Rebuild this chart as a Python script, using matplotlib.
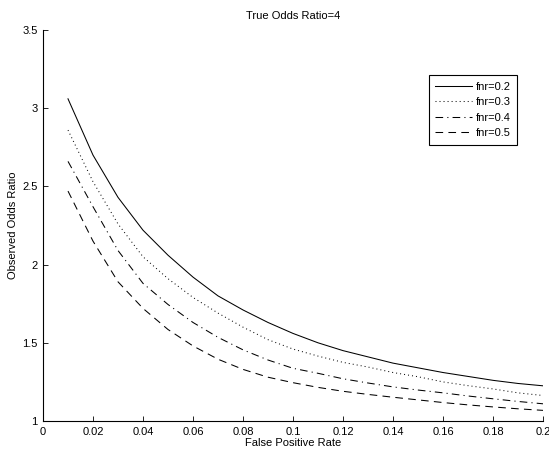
import matplotlib
matplotlib.use("Agg")
import matplotlib.pyplot as plt

# false positive rate (x) and observed odds ratio per fnr
fpr = [0.01, 0.02, 0.03, 0.04, 0.05, 0.06, 0.07, 0.08, 0.09, 0.10,
       0.11, 0.12, 0.13, 0.14, 0.15, 0.16, 0.17, 0.18, 0.19, 0.20]

or_fnr02 = [3.06, 2.70, 2.43, 2.22, 2.06, 1.92, 1.80, 1.71, 1.63, 1.56,
            1.50, 1.45, 1.41, 1.37, 1.34, 1.31, 1.285, 1.26, 1.24, 1.225]
or_fnr03 = [2.86, 2.53, 2.26, 2.05, 1.91, 1.79, 1.69, 1.60, 1.52, 1.46,
            1.415, 1.375, 1.345, 1.31, 1.283, 1.25, 1.226, 1.205, 1.18, 1.163]
or_fnr04 = [2.66, 2.37, 2.09, 1.88, 1.745, 1.63, 1.535, 1.455, 1.39, 1.337,
            1.305, 1.27, 1.243, 1.218, 1.198, 1.18, 1.16, 1.142, 1.125, 1.11]
or_fnr05 = [2.47, 2.15, 1.89, 1.72, 1.585, 1.48, 1.395, 1.33, 1.28, 1.245,
            1.215, 1.19, 1.17, 1.152, 1.135, 1.118, 1.103, 1.09, 1.078, 1.068]

labels = ["fnr=0.2", "fnr=0.3", "fnr=0.4", "fnr=0.5"]
xticks = [0, 0.02, 0.04, 0.06, 0.08, 0.1, 0.12, 0.14, 0.16, 0.18, 0.2]
xticklabels = ["0", "0.02", "0.04", "0.06", "0.08", "0.1", "0.12", "0.14",
               "0.16", "0.18", "0.2"]
yticks = [1, 1.5, 2, 2.5, 3, 3.5]
yticklabels = ["1", "1.5", "2", "2.5", "3", "3.5"]

plt.rcParams['font.family'] = ['Liberation Sans', 'DejaVu Sans']
plt.rcParams['font.size'] = 8
plt.rcParams['lines.scale_dashes'] = False

fig = plt.figure(figsize=(5.49, 4.51), dpi=100)
ax = fig.add_axes([43 / 549, 30 / 451, 500 / 549, 391 / 451])

styles = ['-', (0, (0.7, 2.2)), (0, (5.5, 3, 0.8, 3)), (0, (5.5, 3.8))]
series = [or_fnr02, or_fnr03, or_fnr04, or_fnr05]
for ys, ls, lab in zip(series, styles, labels):
    ax.plot(fpr, ys, color='black', linestyle=ls, linewidth=0.75, label=lab)

ax.set_xlim(0, 0.2)
ax.set_ylim(1, 3.5)
ax.set_xticks(xticks)
ax.set_xticklabels(xticklabels)
ax.set_yticks(yticks)
ax.set_yticklabels(yticklabels)
ax.tick_params(direction='in', length=3.5, width=0.6, labelsize=8)
ax.tick_params(axis='x', pad=4)
ax.tick_params(axis='y', pad=4)

ax.spines['top'].set_visible(False)
ax.spines['right'].set_visible(False)
for side in ['left', 'bottom']:
    ax.spines[side].set_linewidth(0.8)

ax.set_title("True Odds Ratio=4", fontsize=8, pad=8)
ax.set_xlabel("False Positive Rate", fontsize=8, labelpad=1)
ax.set_ylabel("Observed Odds Ratio", fontsize=8, labelpad=3)

leg = ax.legend(loc='upper right', bbox_to_anchor=(0.948, 0.885),
                borderaxespad=0, fancybox=False, framealpha=1,
                edgecolor='black', handlelength=3.3, handletextpad=0.3,
                labelspacing=0.5, borderpad=0.6, fontsize=8)
leg.get_frame().set_linewidth(0.8)

fig.savefig("out.png", dpi=100)
